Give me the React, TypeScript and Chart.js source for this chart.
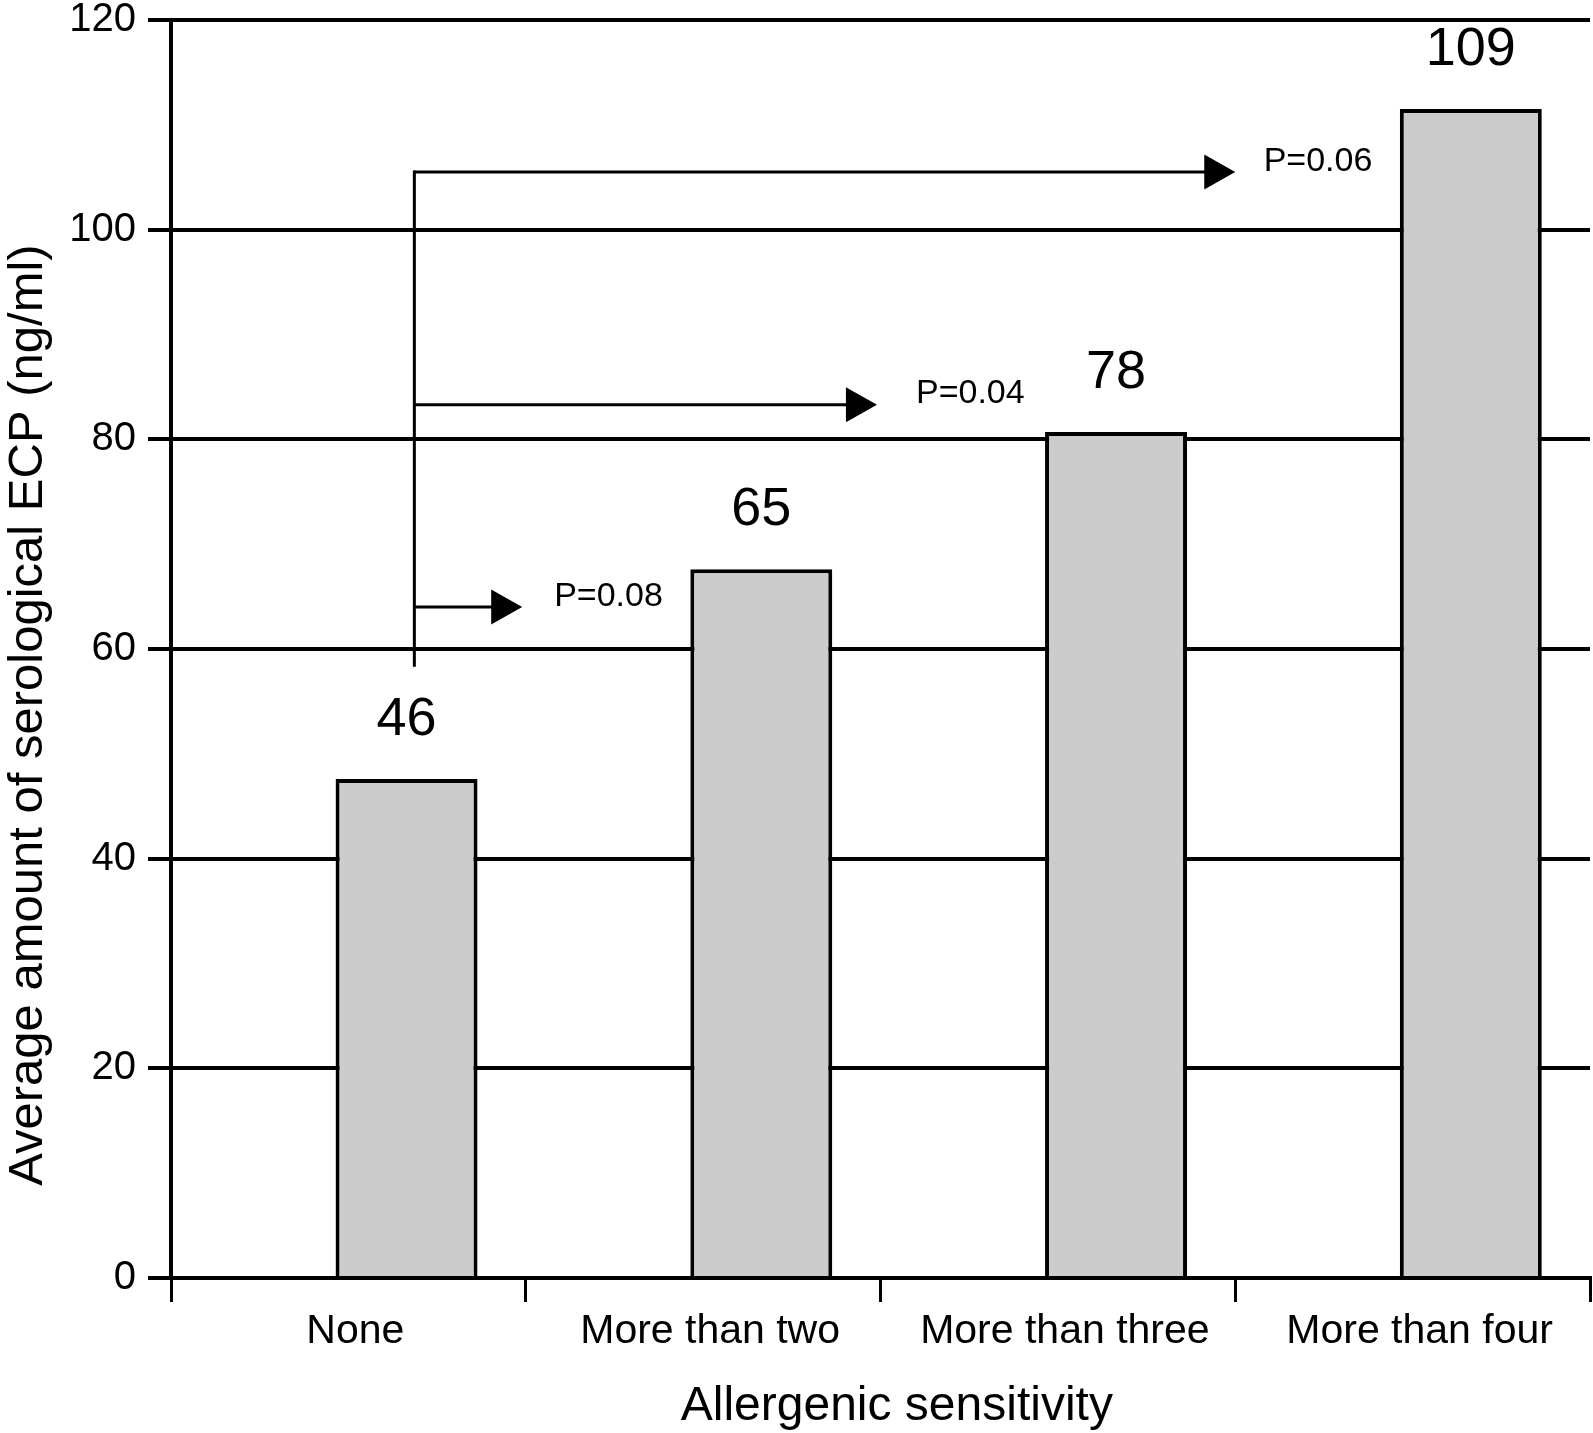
import React, { useEffect, useRef } from 'react';
import { Chart, registerables } from 'chart.js';

Chart.register(...registerables);

const FONT = "'Liberation Sans', Arial, Helvetica, sans-serif";

// ---- data ----
const categories = ['None', 'More than two', 'More than three', 'More than four'];
const ecpValues = [47.6, 67.6, 80.7, 111.5];
const valueLabels = ['46', '65', '78', '109'];
const yTickValues = [0, 20, 40, 60, 80, 100, 120];
const comparisonLabels = ['P=0.08', 'P=0.04', 'P=0.06'];
const comparisonY = [64.0, 83.3, 105.5];
const comparisonTipX = [0.49, 1.49, 2.5];
const comparisonLabelX = [0.58, 1.6, 2.58];
const comparisonLabelY = [65.0, 84.4, 106.5];
const bracketX = 0.186;
const bracketBottom = 58.3;
const xTitle = 'Allergenic sensitivity';
const yTitle = 'Average amount of serological ECP (ng/ml)';

const annotationPlugin = {
  id: 'ecpAnnotations',
  afterDatasetsDraw(chart: any) {
    const { ctx, chartArea } = chart;
    const x = chart.scales.x;
    const y = chart.scales.y;
    const meta = chart.getDatasetMeta(1);
    ctx.save();
    ctx.fillStyle = '#000';
    ctx.strokeStyle = '#000';

    // value labels above bars
    ctx.font = `54px ${FONT}`;
    ctx.textAlign = 'center';
    ctx.textBaseline = 'middle';
    meta.data.forEach((bar: any, i: number) => {
      ctx.fillText(valueLabels[i], bar.x, bar.y - 59);
    });

    // comparison bracket
    const bx = x.getPixelForValue(bracketX);
    ctx.lineWidth = 3;
    ctx.beginPath();
    ctx.moveTo(bx, y.getPixelForValue(bracketBottom));
    ctx.lineTo(bx, y.getPixelForValue(Math.max(...comparisonY)) - 1.5);
    ctx.stroke();

    comparisonY.forEach((v, i) => {
      const py = y.getPixelForValue(v);
      const tip = x.getPixelForValue(comparisonTipX[i]);
      ctx.beginPath();
      ctx.moveTo(bx, py);
      ctx.lineTo(tip - 28, py);
      ctx.stroke();
      ctx.beginPath();
      ctx.moveTo(tip, py);
      ctx.lineTo(tip - 31, py - 17.5);
      ctx.lineTo(tip - 31, py + 17.5);
      ctx.closePath();
      ctx.fill();
      ctx.font = `34px ${FONT}`;
      ctx.textAlign = 'left';
      ctx.textBaseline = 'middle';
      ctx.fillText(
        comparisonLabels[i],
        x.getPixelForValue(comparisonLabelX[i]),
        y.getPixelForValue(comparisonLabelY[i])
      );
    });

    // axis titles
    ctx.textAlign = 'center';
    ctx.textBaseline = 'middle';
    ctx.font = `48px ${FONT}`;
    ctx.fillText(xTitle, x.getPixelForValue(1.546), chartArea.bottom + 129);
    ctx.font = `49px ${FONT}`;
    ctx.save();
    ctx.translate(28.5, y.getPixelForValue(53.7));
    ctx.rotate(-Math.PI / 2);
    ctx.fillText(yTitle, 0, 0);
    ctx.restore();

    ctx.restore();
  },
};

export default function App() {
  const canvasRef = useRef<HTMLCanvasElement | null>(null);

  useEffect(() => {
    if (!canvasRef.current) return;
    Chart.defaults.font.family = FONT;
    Chart.defaults.color = '#000';
    const chart = new Chart(canvasRef.current, {
      type: 'bar',
      data: {
        labels: categories,
        datasets: [
          {
            label: '',
            data: categories.map(() => null),
            backgroundColor: 'rgba(0,0,0,0)',
            borderWidth: 0,
            categoryPercentage: 0.656,
            barPercentage: 1.22,
          },
          {
            label: 'ECP',
            data: ecpValues,
            backgroundColor: '#cccccc',
            borderColor: '#000000',
            borderWidth: 4,
            borderSkipped: 'bottom',
            categoryPercentage: 0.656,
            barPercentage: 1.22,
          },
        ],
      },
      options: {
        responsive: false,
        animation: false,
        devicePixelRatio: 1,
        layout: { padding: { top: 20, right: 3, left: 0, bottom: 0 } },
        plugins: {
          legend: { display: false },
          tooltip: { enabled: false },
        },
        scales: {
          x: {
            type: 'category',
            offset: true,
            grid: {
              offset: true,
              drawOnChartArea: false,
              drawTicks: true,
              tickLength: 24,
              color: '#000',
              lineWidth: 3,
            },
            border: { display: true, color: '#000', width: 4 },
            ticks: {
              font: { size: 41, family: FONT },
              color: '#000',
              padding: 5,
              labelOffset: 7,
              maxRotation: 0,
              autoSkip: false,
            },
            afterFit: (scale: any) => {
              scale.height = 155;
              scale.paddingLeft = 0;
              scale.paddingRight = 0;
            },
          },
          y: {
            min: 0,
            max: 120,
            afterBuildTicks: (scale: any) => {
              scale.ticks = yTickValues.map((v) => ({ value: v }));
            },
            grid: {
              color: '#000',
              lineWidth: 4,
              drawTicks: true,
              tickLength: 23,
            },
            border: { display: true, color: '#000', width: 4 },
            ticks: {
              font: { size: 40, family: FONT, lineHeight: 1 },
              color: '#000',
              padding: 12,
            },
            afterFit: (scale: any) => {
              scale.width = 171;
              scale.paddingTop = 0;
              scale.paddingBottom = 0;
            },
          },
        },
      },
      plugins: [annotationPlugin],
    });
    return () => chart.destroy();
  }, []);

  return (
    <div style={{ position: 'absolute', left: 0, top: 0, width: 1593, height: 1433, background: '#fff' }}>
      <canvas ref={canvasRef} width={1593} height={1433} />
    </div>
  );
}
